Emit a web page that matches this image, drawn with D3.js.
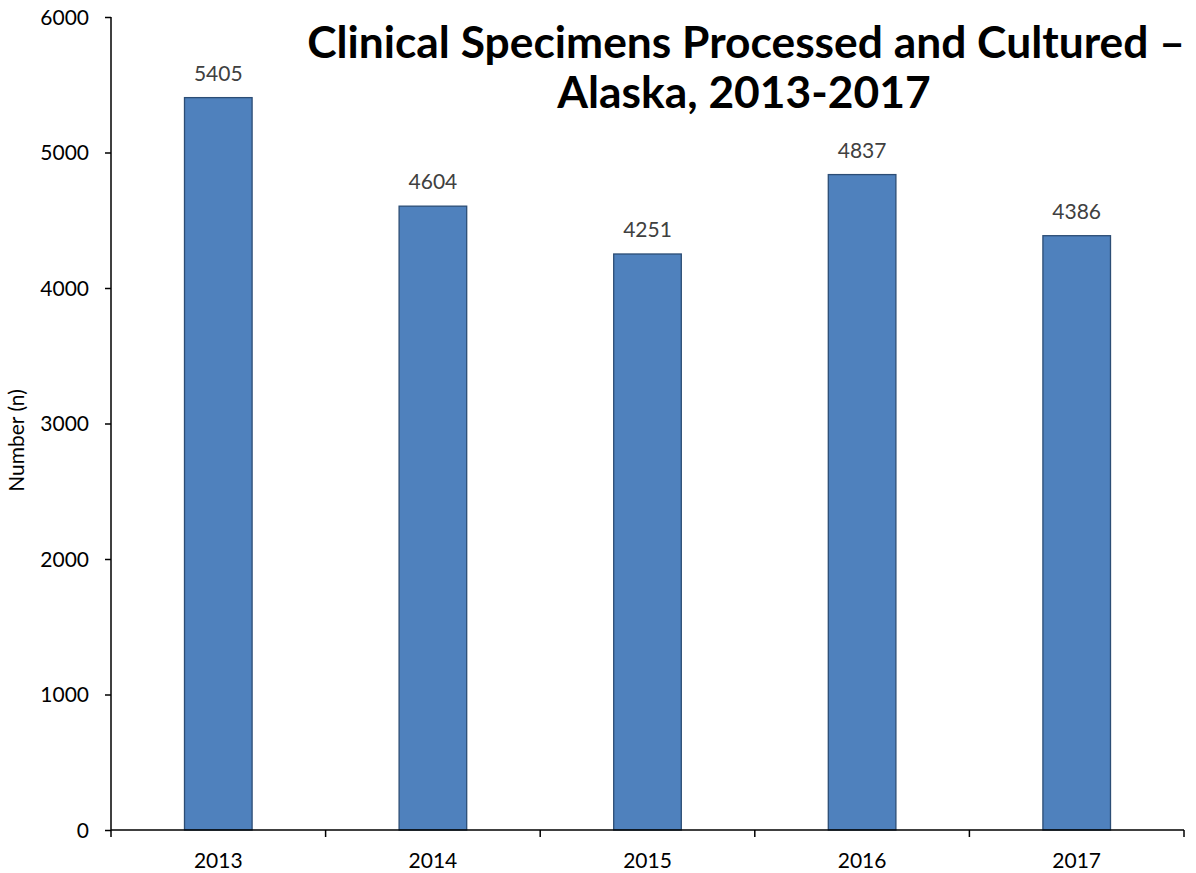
<!DOCTYPE html>
<html>
<head>
<meta charset="utf-8">
<script src="https://cdn.jsdelivr.net/npm/d3@7"></script>
<style>
  html, body { margin: 0; padding: 0; background: #fff; }
  svg { display: block; }
</style>
</head>
<body>
<svg id="chart" width="1196" height="873"></svg>
<script>
// Yearly totals of clinical specimens processed and cultured
const years = ["2013", "2014", "2015", "2016", "2017"];
const specimens = [5405, 4604, 4251, 4837, 4386];
const yTicks = [0, 1000, 2000, 3000, 4000, 5000, 6000];
const titleLines = ["Clinical Specimens Processed and Cultured \u2013", "Alaska, 2013-2017"];
const yAxisLabel = "Number (n)";

const svg = d3.select("#chart");
const plot = { left: 111, right: 1184, top: 17, bottom: 830 };
const font = "Lato, 'Open Sans', sans-serif";
const labelSize = 21;

const x = d3.scaleBand()
  .domain(years)
  .range([plot.left, plot.right])
  .paddingInner(0)
  .paddingOuter(0);

const y = d3.scaleLinear()
  .domain([0, 6000])
  .range([plot.bottom, plot.top]);

const barW = x.bandwidth() * 0.315;

// Bars
svg.append("g")
  .selectAll("rect")
  .data(specimens)
  .join("rect")
  .attr("x", (d, i) => x(years[i]) + x.bandwidth() / 2 - barW / 2)
  .attr("y", d => y(d))
  .attr("width", barW)
  .attr("height", d => y(0) - y(d))
  .attr("fill", "#4F81BD")
  .attr("stroke", "#2C4D75")
  .attr("stroke-width", 1.3);

// Value labels above bars
svg.append("g")
  .selectAll("text")
  .data(specimens)
  .join("text")
  .attr("x", (d, i) => x(years[i]) + x.bandwidth() / 2)
  .attr("y", d => y(d) - 17)
  .attr("text-anchor", "middle")
  .attr("font-family", font)
  .attr("font-size", labelSize)
  .attr("fill", "#404040")
  .text(d => d);

// Y axis
const yAxis = svg.append("g")
  .attr("transform", `translate(${plot.left},0)`)
  .call(d3.axisLeft(y).tickValues(yTicks).tickSize(6).tickPadding(16).tickFormat(d3.format("d")));
yAxis.select(".domain").attr("stroke", "#000").attr("stroke-width", 1.5).attr("d", `M0,${plot.top}V${plot.bottom}`);
yAxis.selectAll(".tick line").attr("stroke", "#000").attr("stroke-width", 1.5);
yAxis.selectAll(".tick text")
  .attr("font-family", font).attr("font-size", labelSize).attr("fill", "#000")
  .attr("dy", "0.35em");

// X axis: category labels centred, tick marks on band boundaries
const xAxis = svg.append("g")
  .attr("transform", `translate(0,${plot.bottom})`);
xAxis.append("path")
  .attr("d", `M${plot.left},0H${plot.right}`)
  .attr("stroke", "#000").attr("stroke-width", 1.5).attr("fill", "none");
const boundaries = years.map(d => x(d)).concat([x(years[years.length - 1]) + x.bandwidth()]);
xAxis.selectAll("line.bnd")
  .data(boundaries)
  .join("line")
  .attr("class", "bnd")
  .attr("x1", d => d).attr("x2", d => d)
  .attr("y1", 0).attr("y2", 7)
  .attr("stroke", "#000").attr("stroke-width", 1.5);
xAxis.selectAll("text")
  .data(years)
  .join("text")
  .attr("x", d => x(d) + x.bandwidth() / 2)
  .attr("y", 38)
  .attr("text-anchor", "middle")
  .attr("font-family", font)
  .attr("font-size", labelSize)
  .attr("fill", "#000")
  .text(d => d);

// Y axis title
svg.append("text")
  .attr("transform", `translate(24,${(plot.top + plot.bottom) / 2 + 17}) rotate(-90)`)
  .attr("text-anchor", "middle")
  .attr("font-family", font)
  .attr("font-size", labelSize)
  .attr("fill", "#000")
  .text(yAxisLabel);

// Title, sized so the first line spans its box
const title = svg.append("g");
const t1 = title.append("text")
  .attr("x", 746).attr("y", 58)
  .attr("text-anchor", "middle")
  .attr("font-family", font)
  .attr("font-weight", "bold")
  .attr("font-size", 40)
  .attr("fill", "#000")
  .text(titleLines[0]);
const w1 = t1.node().getComputedTextLength();
const titleSize = 40 * 878 / w1;
t1.attr("font-size", titleSize);
title.append("text")
  .attr("x", 744).attr("y", 108)
  .attr("text-anchor", "middle")
  .attr("font-family", font)
  .attr("font-weight", "bold")
  .attr("font-size", titleSize)
  .attr("fill", "#000")
  .text(titleLines[1]);
</script>
</body>
</html>
